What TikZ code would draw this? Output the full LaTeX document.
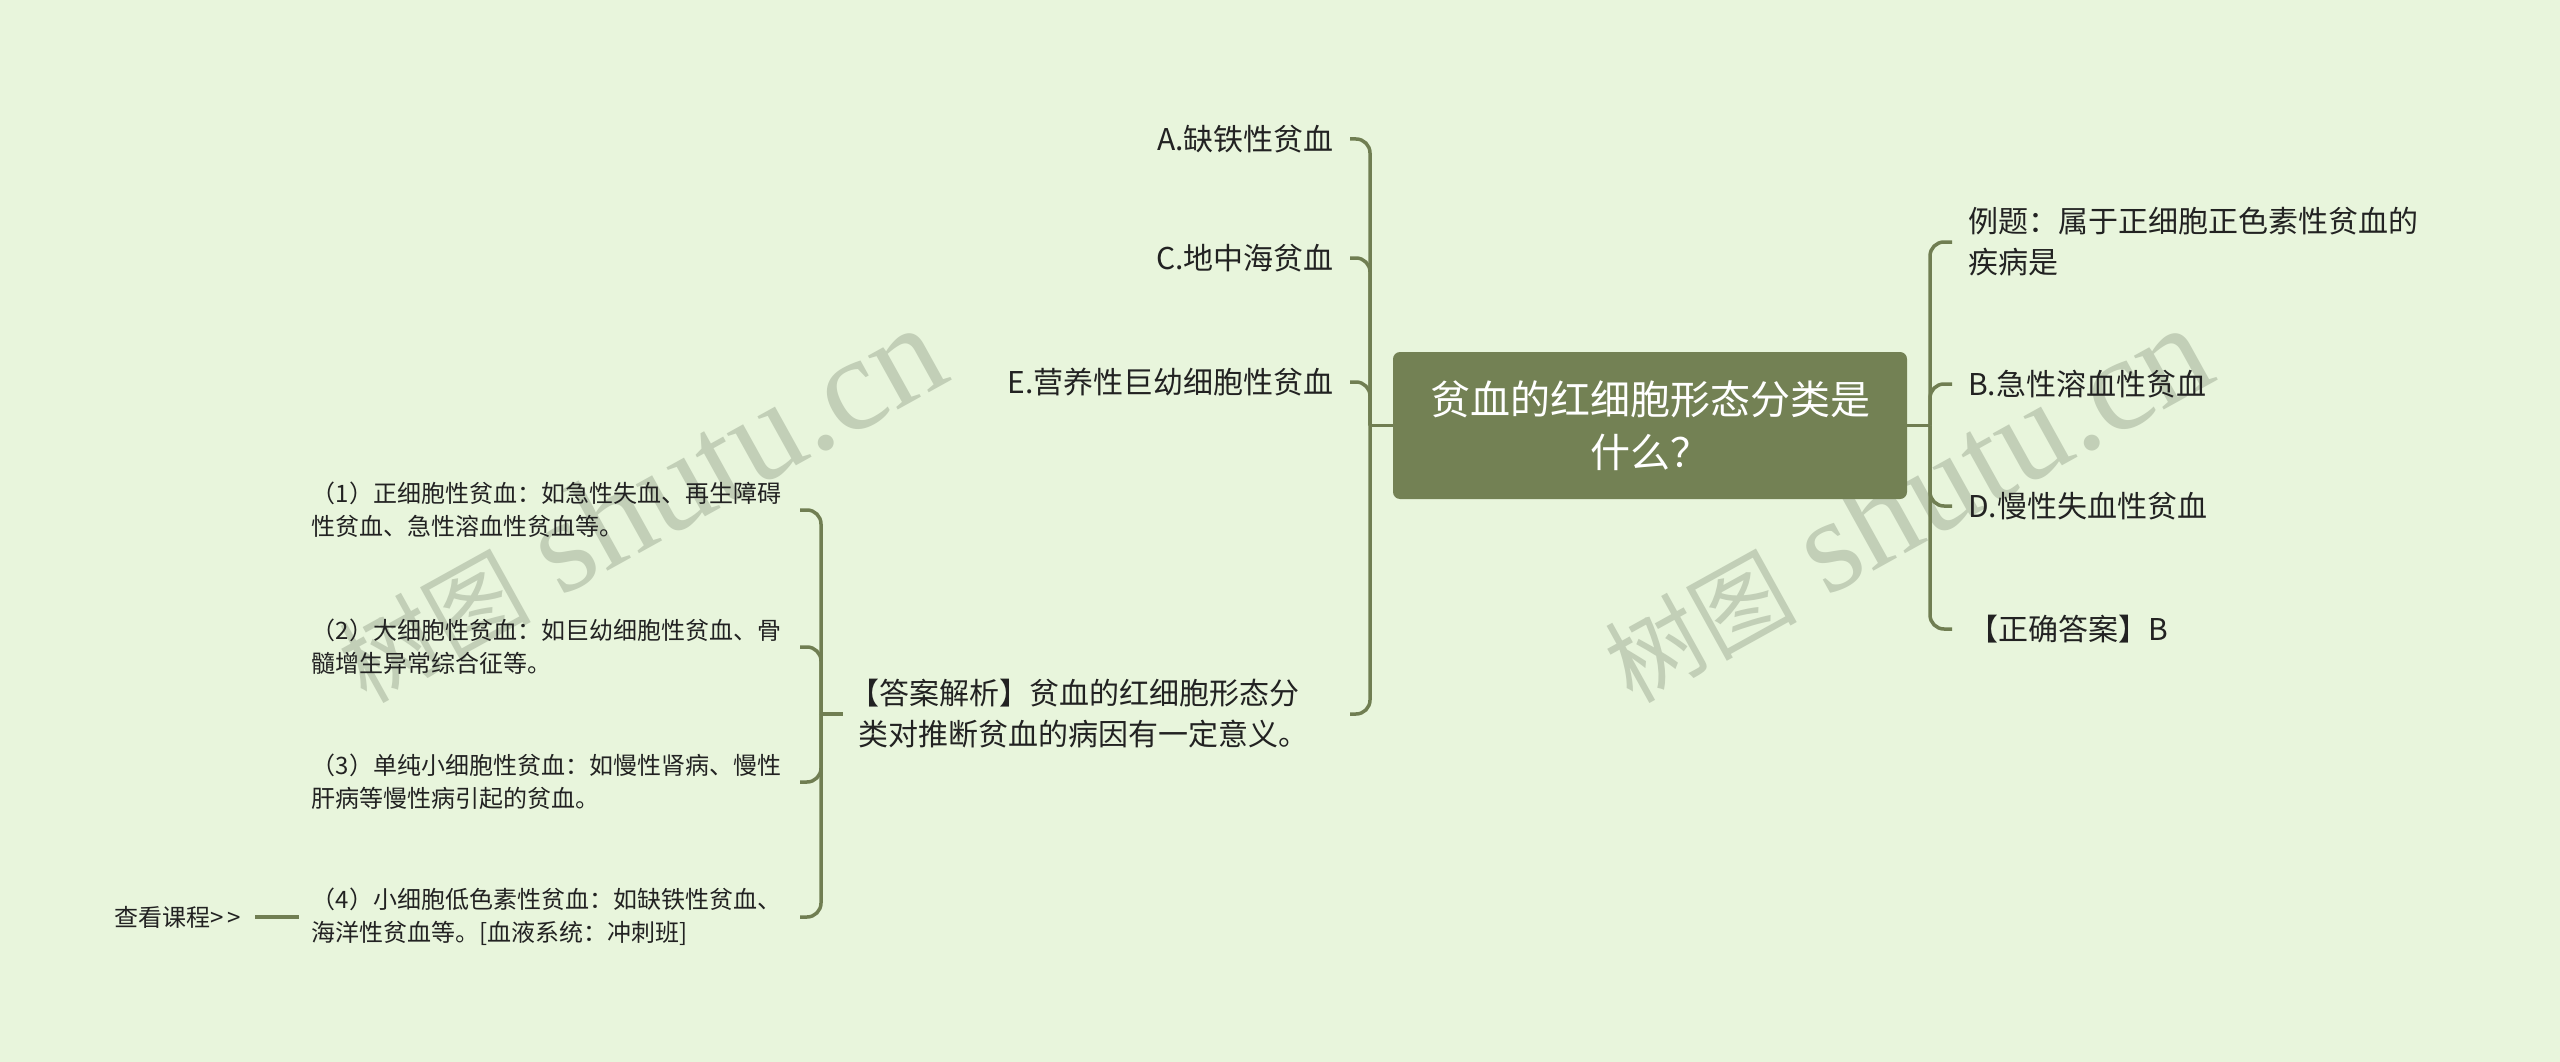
\documentclass[tikz,border=0pt]{standalone}
\usepackage{fontspec}
\setmainfont{Noto Sans CJK SC}
\newfontfamily\wmcjk{Noto Sans CJK SC}
\newfontfamily\wmlat{Liberation Serif}
\definecolor{bgc}{RGB}{232,245,220}
\definecolor{linec}{RGB}{112,126,82}
\definecolor{rootc}{RGB}{115,129,84}
\definecolor{txtc}{RGB}{34,34,34}
\definecolor{wmc}{RGB}{194,207,183}
\newcommand{\wmtext}{{\wmcjk\fontsize{96}{96}\selectfont 树图}\hspace{30pt}{\wmlat\fontsize{134}{134}\selectfont shutu.cn}}
\begin{document}
\begin{tikzpicture}[x=1pt,y=-1pt,
  conn/.style={draw=linec, line width=3.5pt, rounded corners=14pt},
  root/.style={fill=rootc, rounded corners=7pt, text=white, font=\fontsize{40}{53}\selectfont,
    minimum width=514pt, minimum height=147pt, align=center, inner sep=0pt},
  lvl/.style={text=txtc, font=\fontsize{30}{41}\selectfont, inner xsep=16pt, inner ysep=3pt},
  sub/.style={text=txtc, font=\fontsize{24}{33}\selectfont, inner xsep=13pt, inner ysep=3pt,
    text width=475pt, align=left},
  link/.style={text=txtc, font=\fontsize{24}{33}\selectfont, inner xsep=14pt, inner ysep=3pt},
  wm/.style={text=wmc, inner sep=0pt}
]
\fill[bgc] (0,0) rectangle (2560,1062);
\useasboundingbox (0,0) rectangle (2560,1062);

% watermarks
\node[wm, anchor=base west, rotate=29] (wm1) at (366,705) {\wmtext};
\node[wm, anchor=base west, rotate=29] (wm2) at (1632,705) {\wmtext};

% root
\node[root] (root) at (1650,425.5) {贫血的红细胞形态分类是\\什么？};
\coordinate (jL) at (1370,425.5);
\coordinate (jR) at (1930,425.5);

% left children
\node[lvl, anchor=east] (A) at (1350,139) {A.缺铁性贫血};
\node[lvl, anchor=east] (C) at (1350,258) {C.地中海贫血};
\node[lvl, anchor=east] (E) at (1350,382) {E.营养性巨幼细胞性贫血};
\node[lvl, anchor=east, text width=475pt, align=left] (ans) at (1350,714)
  {\hspace*{-9pt}【答案解析】贫血的红细胞形态分\\类对推断贫血的病因有一定意义。};

% right children
\node[lvl, anchor=west, text width=470pt, align=left] (Q) at (1952,242)
  {例题：属于正细胞正色素性贫血的\\疾病是};
\node[lvl, anchor=west] (B) at (1952,384) {B.急性溶血性贫血};
\node[lvl, anchor=west] (D) at (1952,506) {D.慢性失血性贫血};
\node[lvl, anchor=west] (K) at (1952,629) {【正确答案】B};

% sub items
\coordinate (jS) at (821,714);
\node[sub, anchor=east] (s1) at (800,510) {（1）正细胞性贫血：如急性失血、再生障碍\\性贫血、急性溶血性贫血等。};
\node[sub, anchor=east] (s2) at (800,647) {（2）大细胞性贫血：如巨幼细胞性贫血、骨\\髓增生异常综合征等。};
\node[sub, anchor=east] (s3) at (800,782) {（3）单纯小细胞性贫血：如慢性肾病、慢性\\肝病等慢性病引起的贫血。};
\node[sub, anchor=east] (s4) at (800,917) {（4）小细胞低色素性贫血：如缺铁性贫血、\\海洋性贫血等。[血液系统：冲刺班]};
\node[link, anchor=east] (more) at (255,917) {查看课程>\kern4pt>};

% connectors
\draw[conn] (root.west) -- (jL);
\foreach \n in {A,C,E,ans} \draw[conn] (jL) |- (\n.east);
\draw[conn] (root.east) -- (jR);
\foreach \n in {Q,B,D,K} \draw[conn] (jR) |- (\n.west);
\draw[conn] (ans.west) -- (jS);
\foreach \n in {s1,s2,s3,s4} \draw[conn] (jS) |- (\n.east);
\draw[conn] (more.east) -- (s4.west);
\end{tikzpicture}
\end{document}
